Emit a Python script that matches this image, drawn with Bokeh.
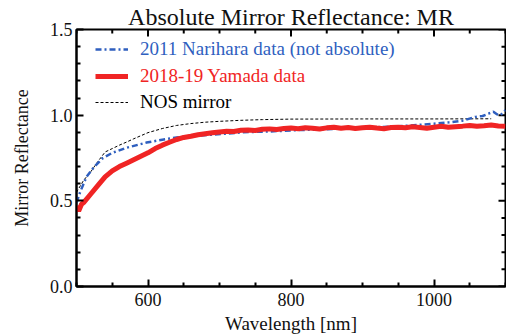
import math
from bokeh.plotting import figure
from bokeh.models import (LinearAxis, FixedTicker, Legend, LegendItem, Range1d,
                          CustomJSTickFormatter)
from bokeh.embed import file_html
from bokeh.resources import INLINE

# ---------------- data ----------------
nos_wl = [500, 510, 520, 530, 540, 550, 560, 570, 580, 590, 600, 620, 640, 660,
          680, 700, 730, 760, 800, 900, 1000, 1080]
nos_r = [0.55, 0.62, 0.67, 0.73, 0.785, 0.805, 0.825, 0.843, 0.862, 0.88, 0.898,
         0.922, 0.94, 0.951, 0.959, 0.964, 0.970, 0.974, 0.977, 0.978, 0.978, 0.979]

nar_wl = [500, 505, 514, 525, 537, 550, 570, 598, 620, 640, 660, 687, 733, 770,
          812, 850, 900, 951, 1000, 1021, 1040, 1058, 1068, 1077, 1083, 1088,
          1093, 1100]
nar_r = [0.49, 0.55, 0.64, 0.70, 0.75, 0.78, 0.81, 0.84, 0.857, 0.87, 0.878,
         0.885, 0.90, 0.905, 0.913, 0.918, 0.926, 0.935, 0.95, 0.958, 0.968,
         0.99, 0.995, 1.01, 1.02, 1.005, 1.0, 1.03]

yam_wl = [500, 503, 507, 510, 520, 530, 540, 550, 560, 570, 580, 590, 600, 610,
          620, 630, 640, 650, 660, 670, 680, 690, 700, 710, 720, 730, 740, 750,
          760, 770, 780, 790, 800, 810, 820, 830, 840, 850, 860, 870, 880, 890,
          900, 910, 920, 930, 940, 950, 960, 970, 980, 990, 1000, 1010, 1020,
          1030, 1040, 1050, 1060, 1070, 1080, 1090, 1100]
yam_r = [0.47, 0.44, 0.48, 0.49, 0.54, 0.59, 0.64, 0.675, 0.70, 0.72, 0.74,
         0.76, 0.78, 0.805, 0.825, 0.842, 0.858, 0.87, 0.877, 0.886, 0.892,
         0.897, 0.902, 0.906, 0.905, 0.912, 0.914, 0.911, 0.918, 0.92, 0.916,
         0.922, 0.925, 0.921, 0.927, 0.924, 0.919, 0.926, 0.93, 0.924, 0.928,
         0.922, 0.927, 0.93, 0.925, 0.921, 0.928, 0.93, 0.926, 0.932, 0.928,
         0.924, 0.93, 0.935, 0.929, 0.933, 0.936, 0.94, 0.935, 0.938, 0.942,
         0.937, 0.935]

x_major = [600, 800, 1000]
x_minor = [500, 550, 650, 700, 750, 850, 900, 950, 1050, 1100]
y_major = [0.0, 0.5, 1.0, 1.5]
y_minor = [0.1, 0.2, 0.3, 0.4, 0.6, 0.7, 0.8, 0.9, 1.1, 1.2, 1.3, 1.4]

labels = ["2011 Narihara data (not absolute)", "2018-19 Yamada data", "NOS mirror"]

# ---------------- style ----------------
SERIF = "Liberation Serif"
BLUE = "#2f5fbf"
RED = "#f02424"
X0, X1, Y0, Y1 = 500, 1100, 0.0, 1.5

p = figure(width=506, height=336, output_backend="svg", toolbar_location=None,
           x_range=Range1d(X0, X1), y_range=Range1d(Y0, Y1),
           min_border_left=76, min_border_right=1, min_border_bottom=49,
           min_border_top=29, x_axis_type=None, y_axis_type=None)
p.title.text = "Absolute Mirror Reflectance: MR"
p.title.align = "center"
p.title.text_font = SERIF
p.title.text_font_size = "24px"
p.title.text_font_style = "normal"
p.title.text_color = "#111111"
p.title.offset = 0
p.title.standoff = 0
p.outline_line_color = "black"
p.outline_line_width = 2
p.xgrid.visible = False
p.ygrid.visible = False
p.background_fill_color = "white"
p.border_fill_color = "white"

xt = FixedTicker(ticks=x_major, minor_ticks=x_minor)
yt = FixedTicker(ticks=y_major, minor_ticks=y_minor)


def style_axis(ax):
    ax.axis_line_width = 2
    ax.axis_line_color = "black"
    ax.major_tick_in = 7
    ax.major_tick_out = 0
    ax.minor_tick_in = 4
    ax.minor_tick_out = 0
    ax.major_tick_line_width = 2
    ax.minor_tick_line_width = 2
    ax.major_label_text_font = SERIF
    ax.major_label_text_font_size = "18px"
    ax.major_label_text_color = "#111111"
    ax.axis_label_text_font = SERIF
    ax.axis_label_text_font_style = "normal"
    ax.axis_label_text_color = "#111111"


bottom = LinearAxis(ticker=xt, axis_label="Wavelength [nm]")
style_axis(bottom)
bottom.axis_label_text_font_size = "19px"
bottom.major_label_standoff = 6
bottom.axis_label_standoff = 4
p.add_layout(bottom, "below")

left = LinearAxis(ticker=yt, axis_label="Mirror Reflectance",
                  formatter=CustomJSTickFormatter(code="return tick.toFixed(1);"))
style_axis(left)
left.axis_label_text_font_size = "18px"
left.major_label_standoff = 4
left.axis_label_standoff = 15
p.add_layout(left, "left")

# inward ticks on the top and right frame edges
p.ray(x=x_major, y=[Y1] * len(x_major), length=7, angle=-math.pi / 2,
      length_units="screen", line_color="black", line_width=2)
p.ray(x=x_minor, y=[Y1] * len(x_minor), length=4, angle=-math.pi / 2,
      length_units="screen", line_color="black", line_width=2)
p.ray(x=[X1] * len(y_major), y=y_major, length=7, angle=math.pi,
      length_units="screen", line_color="black", line_width=2)
p.ray(x=[X1] * len(y_minor), y=y_minor, length=4, angle=math.pi,
      length_units="screen", line_color="black", line_width=2)

r_nos = p.line(nos_wl, nos_r, line_color="black", line_width=1, line_dash="3 2")
r_nar = p.line(nar_wl, nar_r, line_color=BLUE, line_width=2.5, line_dash="6 3 2 3")
r_yam = p.line(yam_wl, yam_r, line_color=RED, line_width=5)

for rend, lab, col, yloc in [(r_nar, labels[0], BLUE, 226),
                             (r_yam, labels[1], RED, 199),
                             (r_nos, labels[2], "black", 173)]:
    lg = Legend(items=[LegendItem(label=lab, renderers=[rend])],
                location=(19, yloc), border_line_color=None,
                background_fill_alpha=0, padding=0, margin=0, spacing=0,
                glyph_width=33, glyph_height=20, label_height=20,
                label_standoff=12, label_text_font=SERIF,
                label_text_font_size="19px", label_text_color=col)
    p.add_layout(lg)

open("out.html", "w").write(file_html(p, INLINE))
